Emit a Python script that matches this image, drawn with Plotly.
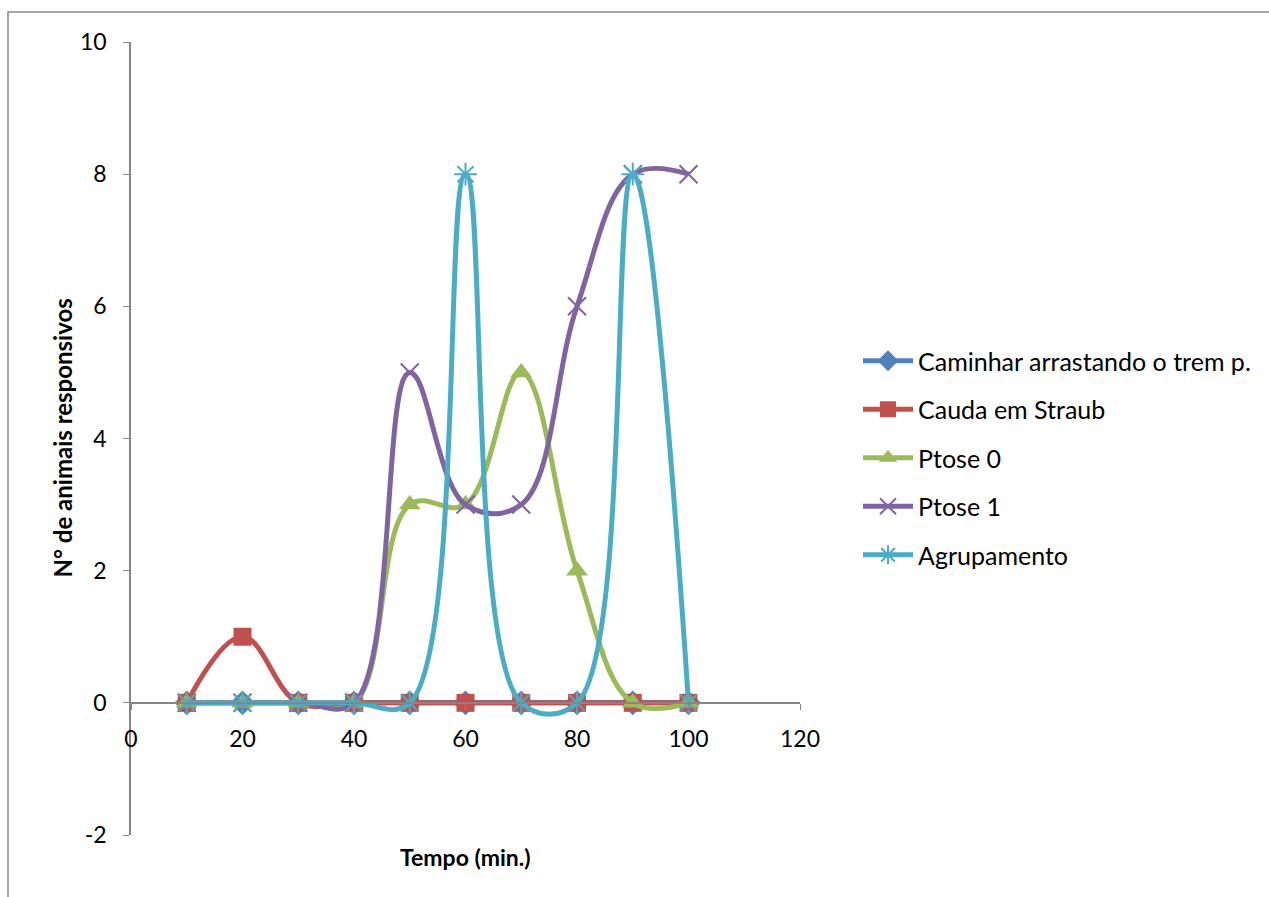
import plotly.graph_objects as go

# Observation times (minutes)
tempo = [10, 20, 30, 40, 50, 60, 70, 80, 90, 100]

# Number of responsive animals per behaviour
caminhar = [0, 0, 0, 0, 0, 0, 0, 0, 0, 0]
cauda_straub = [0, 1, 0, 0, 0, 0, 0, 0, 0, 0]
ptose_0 = [0, 0, 0, 0, 3, 3, 5, 2, 0, 0]
ptose_1 = [0, 0, 0, 0, 5, 3, 3, 6, 8, 8]
agrupamento = [0, 0, 0, 0, 0, 8, 0, 0, 8, 0]

# Axis ticks
x_ticks = [0, 20, 40, 60, 80, 100, 120]
y_ticks = [-2, 0, 2, 4, 6, 8, 10]
y_tick_text = ["-2", "0", "2", "4", "6", "8", "10"]

series = [
    ("Caminhar arrastando o trem p.", caminhar, "#4F81BD", "diamond", 19, 0),
    ("Cauda em Straub", cauda_straub, "#C0504D", "square", 18, 0),
    ("Ptose 0", ptose_0, "#9BBB59", "triangle-up", 19, 0),
    ("Ptose 1", ptose_1, "#8064A2", "x-thin-open", 18, 2),
    ("Agrupamento", agrupamento, "#4BACC6", "asterisk-open", 19, 2),
]

FONT = "Lato, 'Open Sans', sans-serif"

fig = go.Figure()
for i, (name, vals, color, symbol, size, lw) in enumerate(series):
    fig.add_trace(go.Scatter(
        x=tempo, y=vals, name=name, mode="lines+markers",
        line=dict(color=color, width=5, shape="spline", smoothing=1.1),
        marker=dict(symbol=symbol, size=size, color=color,
                    line=dict(color=color, width=lw)),
        legendgroup=f"g{i}",
    ))

W, H = 1269, 897
L, R, T, B = 131, 469, 42, 62
pw, ph = W - L - R, H - T - B

fig.update_layout(
    width=W, height=H,
    margin=dict(l=L, r=R, t=T, b=B, autoexpand=False),
    paper_bgcolor="white", plot_bgcolor="white",
    font=dict(family=FONT, size=24, color="black"),
    showlegend=True,
    legend=dict(
        x=(858 - L) / pw, xanchor="left",
        y=(H - B - 338) / ph, yanchor="top",
        font=dict(size=25, family=FONT),
        tracegroupgap=13, itemwidth=50,
        bgcolor="rgba(0,0,0,0)",
    ),
    xaxis=dict(
        range=[0, 120], tickvals=x_ticks,
        showgrid=False, zeroline=False,
        showline=True, linecolor="#868686", linewidth=1.5,
        ticks="outside", ticklen=6, tickcolor="#868686",
        anchor="free", position=1 / 6,
        tickfont=dict(size=23, family=FONT),
        ticklabelstandoff=10,
    ),
    yaxis=dict(
        range=[-2, 10], tickvals=y_ticks, ticktext=y_tick_text,
        showgrid=False, zeroline=False,
        showline=True, linecolor="#868686", linewidth=1.5,
        ticks="outside", ticklen=6, tickcolor="#868686",
        tickfont=dict(size=23, family=FONT),
        ticklabelstandoff=12,
    ),
    annotations=[
        dict(text="<b>Tempo (min.)</b>", xref="paper", yref="paper",
             x=0.5, y=(H - B - 857) / ph, xanchor="center", yanchor="middle",
             showarrow=False, font=dict(size=23, family=FONT)),
        dict(text="<b>N° de animais responsivos</b>", xref="paper", yref="paper",
             x=(62 - L) / pw, y=0.5, xanchor="center", yanchor="middle",
             textangle=-90, showarrow=False, font=dict(size=24, family=FONT)),
    ],
    shapes=[
        dict(type="rect", xref="paper", yref="paper",
             x0=(8 - L) / pw, x1=(W + 20 - L) / pw,
             y0=(H - B - (H + 20)) / ph, y1=(H - B - 12) / ph,
             line=dict(color="#868686", width=1.5), fillcolor="rgba(0,0,0,0)"),
    ],
)

fig.write_html("out.html")
